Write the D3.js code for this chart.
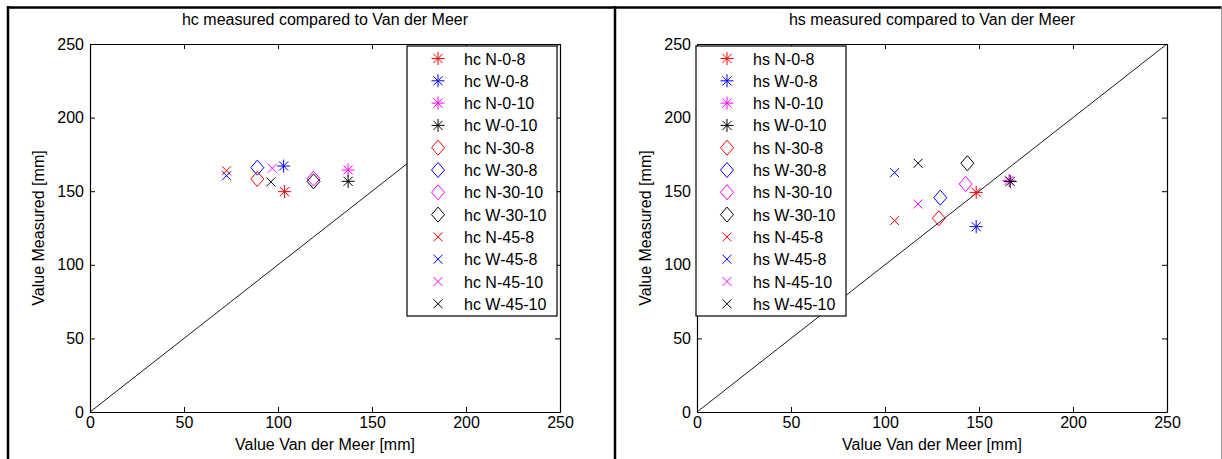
<!DOCTYPE html>
<html>
<head>
<meta charset="utf-8">
<script src="https://cdn.jsdelivr.net/npm/d3@7"></script>
<style>
  body { margin: 0; background: #fff; }
  svg { display: block; font-family: Arial, "Liberation Sans", sans-serif; }
</style>
</head>
<body>
<div id="chart"></div>
<script>
// series names (legend order) - same tests for both panels
const seriesNames = ["N-0-8", "W-0-8", "N-0-10", "W-0-10", "N-30-8", "W-30-8", "N-30-10", "W-30-10", "N-45-8", "W-45-8", "N-45-10", "W-45-10"];

// hc: Van der Meer value vs measured value [mm]
const hcVdM      = [103.5, 103, 137.3, 137.3, 89, 89, 118.9, 118.9, 72.6, 72.6, 97, 96.2];
const hcMeasured = [149.7, 167.1, 164.4, 156.7, 158.3, 166, 158.5, 156.7, 163.9, 160.5, 165.6, 156.3];

// hs: Van der Meer value vs measured value [mm]
const hsVdM      = [148.5, 148.5, 166, 166.6, 128.6, 129.4, 142.9, 143.8, 105.1, 105.1, 117.6, 117.6];
const hsMeasured = [149.2, 125.9, 157.4, 156.6, 131.6, 145.6, 154.9, 169, 130, 162.6, 141.3, 169];

const tickValues = [0, 50, 100, 150, 200, 250];

// styles
const colors = ["#ff0000", "#0000ff", "#ff00ff", "#000000"];
const markers = ["asterisk", "diamond", "cross"];

const W = 1222, H = 459;
const svg = d3.select("#chart").append("svg")
  .attr("width", W).attr("height", H);

// outer frame of the two panels
svg.append("line").attr("x1", 7).attr("x2", 1222).attr("y1", 7.5).attr("y2", 7.5)
  .attr("stroke", "#000").attr("stroke-width", 2.5);
svg.append("line").attr("x1", 8).attr("x2", 8).attr("y1", 6).attr("y2", H)
  .attr("stroke", "#000").attr("stroke-width", 2.5);
svg.append("line").attr("x1", 615).attr("x2", 615).attr("y1", 6).attr("y2", H)
  .attr("stroke", "#000").attr("stroke-width", 2.5);
svg.append("line").attr("x1", 1221.5).attr("x2", 1221.5).attr("y1", 6).attr("y2", H)
  .attr("stroke", "#999").attr("stroke-width", 1);

function markerPath(kind) {
  if (kind === "asterisk") {
    const r = 6.5, d = 4.6;
    return `M${-r},0L${r},0M0,${-r}L0,${r}M${-d},${-d}L${d},${d}M${-d},${d}L${d},${-d}`;
  }
  if (kind === "diamond") {
    const w = 6.5, h = 7.5;
    return `M0,${-h}L${w},0L0,${h}L${-w},0Z`;
  }
  const c = 4.5;
  return `M${-c},${-c}L${c},${c}M${-c},${c}L${c},${-c}`;
}

function drawPanel(opt) {
  const left = opt.left, top = 44, width = 470, height = 368;
  const g = svg.append("g").attr("transform", `translate(${left},${top})`);

  const x = d3.scaleLinear().domain([0, 250]).range([0, width]);
  const y = d3.scaleLinear().domain([0, 250]).range([height, 0]);

  // diagonal y = x
  g.append("line")
    .attr("x1", x(0)).attr("y1", y(0)).attr("x2", x(250)).attr("y2", y(250))
    .attr("stroke", "#000").attr("stroke-width", 0.9);

  // axes with inward ticks on all sides
  const tl = 5;
  const axB = g.append("g").attr("transform", `translate(0,${height})`)
    .call(d3.axisBottom(x).tickValues(tickValues).tickSizeInner(-tl).tickSizeOuter(0).tickPadding(4));
  const axT = g.append("g")
    .call(d3.axisTop(x).tickValues(tickValues).tickSizeInner(-tl).tickSizeOuter(0).tickFormat(""));
  const axL = g.append("g")
    .call(d3.axisLeft(y).tickValues(tickValues).tickSizeInner(-tl).tickSizeOuter(0).tickPadding(6));
  const axR = g.append("g").attr("transform", `translate(${width},0)`)
    .call(d3.axisRight(y).tickValues(tickValues).tickSizeInner(-tl).tickSizeOuter(0).tickFormat(""));
  [axB, axT, axL, axR].forEach(a => {
    a.select(".domain").attr("stroke", "#000").attr("stroke-width", 1.2);
    a.selectAll(".tick line").attr("stroke", "#000");
    a.selectAll("text").attr("font-size", 16).attr("font-family", "Arial, 'Liberation Sans', sans-serif").attr("fill", "#000");
  });
  axB.selectAll("text").attr("dy", "0.72em");

  // data points
  const pts = seriesNames.map((n, i) => ({ i, vx: opt.vx[i], vy: opt.vy[i] }));
  g.selectAll("path.pt").data(pts).enter().append("path")
    .attr("class", "pt")
    .attr("transform", d => `translate(${x(d.vx)},${y(d.vy)})`)
    .attr("d", d => markerPath(markers[Math.floor(d.i / 4)]))
    .attr("fill", "none")
    .attr("stroke", d => colors[d.i % 4])
    .attr("stroke-width", 1);

  // title and labels
  svg.append("text").attr("x", left + width / 2).attr("y", 25)
    .attr("text-anchor", "middle").attr("font-size", 16).text(opt.title);
  svg.append("text").attr("x", left + width / 2).attr("y", 450)
    .attr("text-anchor", "middle").attr("font-size", 16).text("Value Van der Meer [mm]");
  svg.append("text").attr("transform", `translate(${left - 46},${top + height / 2}) rotate(-90)`)
    .attr("text-anchor", "middle").attr("font-size", 16).text("Value Measured [mm]");

  // legend
  const lg = svg.append("g").attr("transform", `translate(${opt.legendX},46)`);
  lg.append("rect").attr("x", 0).attr("y", 0).attr("width", 150).attr("height", 270)
    .attr("fill", "#fff").attr("stroke", "#000").attr("stroke-width", 1.2);
  const rows = lg.selectAll("g.row").data(seriesNames).enter().append("g")
    .attr("class", "row")
    .attr("transform", (d, i) => `translate(0,${12.5 + i * 22.3})`);
  rows.append("path")
    .attr("transform", "translate(31,0)")
    .attr("d", (d, i) => markerPath(markers[Math.floor(i / 4)]))
    .attr("fill", "none")
    .attr("stroke", (d, i) => colors[i % 4])
    .attr("stroke-width", 1);
  rows.append("text").attr("x", 57).attr("y", 6).attr("font-size", 16)
    .text(d => `${opt.prefix} ${d}`);
}

drawPanel({ left: 90, title: "hc measured compared to Van der Meer", prefix: "hc", vx: hcVdM, vy: hcMeasured, legendX: 407 });
drawPanel({ left: 697, title: "hs measured compared to Van der Meer", prefix: "hs", vx: hsVdM, vy: hsMeasured, legendX: 696 });
</script>
</body>
</html>
